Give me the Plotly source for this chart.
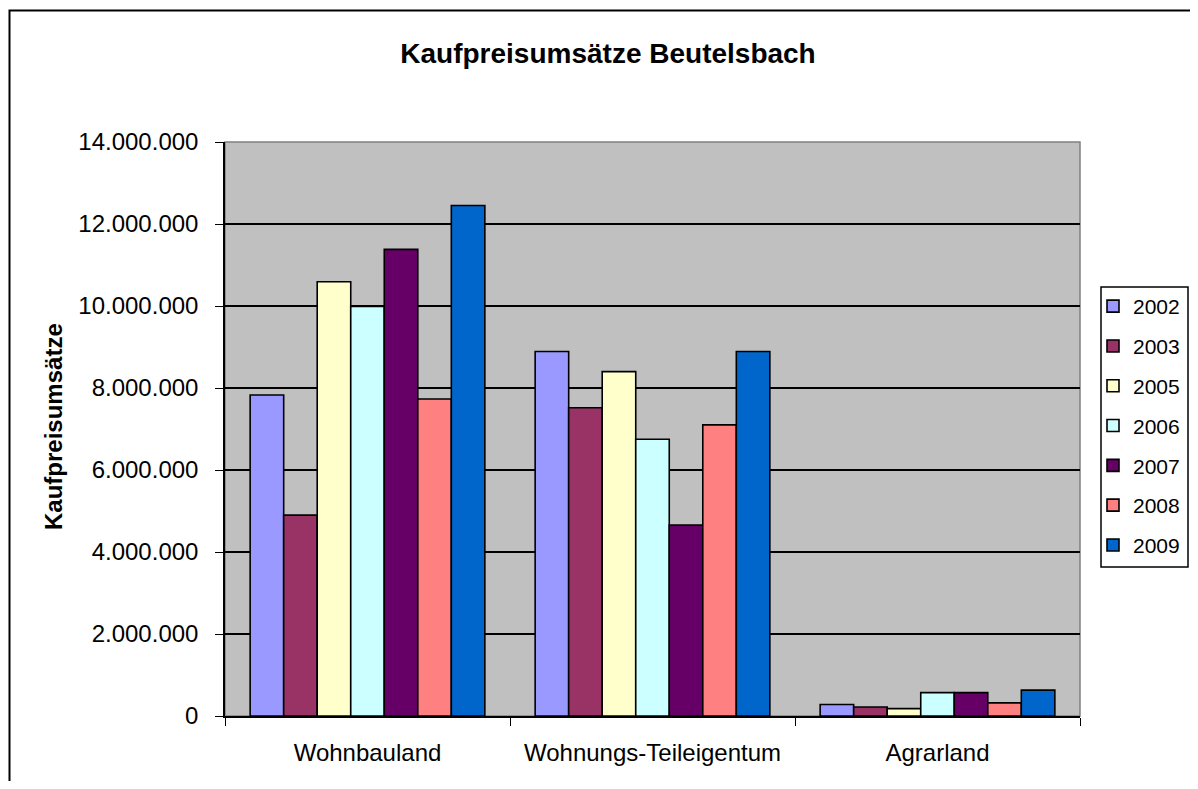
import plotly.graph_objects as go

categories = ["Wohnbauland", "Wohnungs-Teileigentum", "Agrarland"]
years = ["2002", "2003", "2005", "2006", "2007", "2008", "2009"]
v2002 = [7830000, 8890000, 280000]
v2003 = [4900000, 7520000, 220000]
v2005 = [10590000, 8400000, 180000]
v2006 = [9990000, 6750000, 570000]
v2007 = [11380000, 4660000, 570000]
v2008 = [7730000, 7100000, 320000]
v2009 = [12450000, 8890000, 630000]
series = [v2002, v2003, v2005, v2006, v2007, v2008, v2009]
colors = ["#9999FF", "#993366", "#FFFFCC", "#CCFFFF", "#660066", "#FF8080", "#0066CC"]

OFF = 8  # page body margin
W, H = 1198 - 2 * OFF, 789 - 2 * OFF
L, R, T, B = 225 - OFF, 1080 - OFF, 142 - OFF, 716 - OFF

def px(x):
    return (x - OFF - L) / (R - L)

def py(y):
    return (B - (y - OFF)) / (B - T)

FONT = "Liberation Sans, Arial, sans-serif"

fig = go.Figure()
for yr, vals, c in zip(years, series, colors):
    fig.add_trace(go.Bar(
        name=yr, x=categories, y=vals, legendgroup=yr,
        marker=dict(color=c, line=dict(color="black", width=1.6)),
    ))

fig.update_layout(
    width=W, height=H,
    margin=dict(l=L, r=W - R, t=T, b=H - B, autoexpand=False),
    paper_bgcolor="white", plot_bgcolor="#C0C0C0",
    separators=",.",
    barmode="group", bargap=1.5 / 8.5, bargroupgap=0,
    font=dict(family=FONT, size=24, color="black"),
    title=dict(text="<b>Kaufpreisumsätze Beutelsbach</b>", x=(608 - OFF) / W, xanchor="center",
               y=1 - (53 - OFF) / H, yanchor="middle", font=dict(size=28, family=FONT)),
    xaxis=dict(type="category", tickson="boundaries", ticks="outside", ticklen=8,
               tickcolor="black", showline=True, linecolor="black", linewidth=1.5,
               showgrid=False, tickfont=dict(size=24), ticklabelstandoff=14, fixedrange=True),
    yaxis=dict(range=[0, 14000000], dtick=2000000, tickformat=",.0f",
               ticks="outside", ticklen=8, tickcolor="black",
               showline=True, linecolor="black", linewidth=1.5,
               showgrid=True, gridcolor="black", gridwidth=1.5,
               zeroline=False, tickfont=dict(size=24), ticklabelstandoff=12),
    legend=dict(x=px(1093), xanchor="left", y=py(426), yanchor="middle",
                borderwidth=0, bgcolor="rgba(0,0,0,0)",
                font=dict(size=21), tracegroupgap=9.5),
    showlegend=True,
)

fig.add_annotation(text="<b>Kaufpreisumsätze</b>", textangle=-90, xref="paper", yref="paper",
                   x=px(53), y=py(427), xanchor="center", yanchor="middle",
                   showarrow=False, font=dict(size=24, family=FONT))

# plot area border (gray top/right)
fig.add_shape(type="rect", xref="paper", yref="paper", x0=0, y0=0, x1=1, y1=1,
              line=dict(color="#808080", width=1.5), layer="below")
# legend box
fig.add_shape(type="rect", xref="paper", yref="paper", x0=px(1101), y0=py(287), x1=px(1188), y1=py(567),
              line=dict(color="black", width=1.5), fillcolor="white", layer="below")
# outer chart border
fig.add_shape(type="rect", xref="paper", yref="paper", x0=px(9.5), y0=py(10.5), x1=px(1240), y1=py(840),
              line=dict(color="black", width=2))

fig.write_html("out.html")
